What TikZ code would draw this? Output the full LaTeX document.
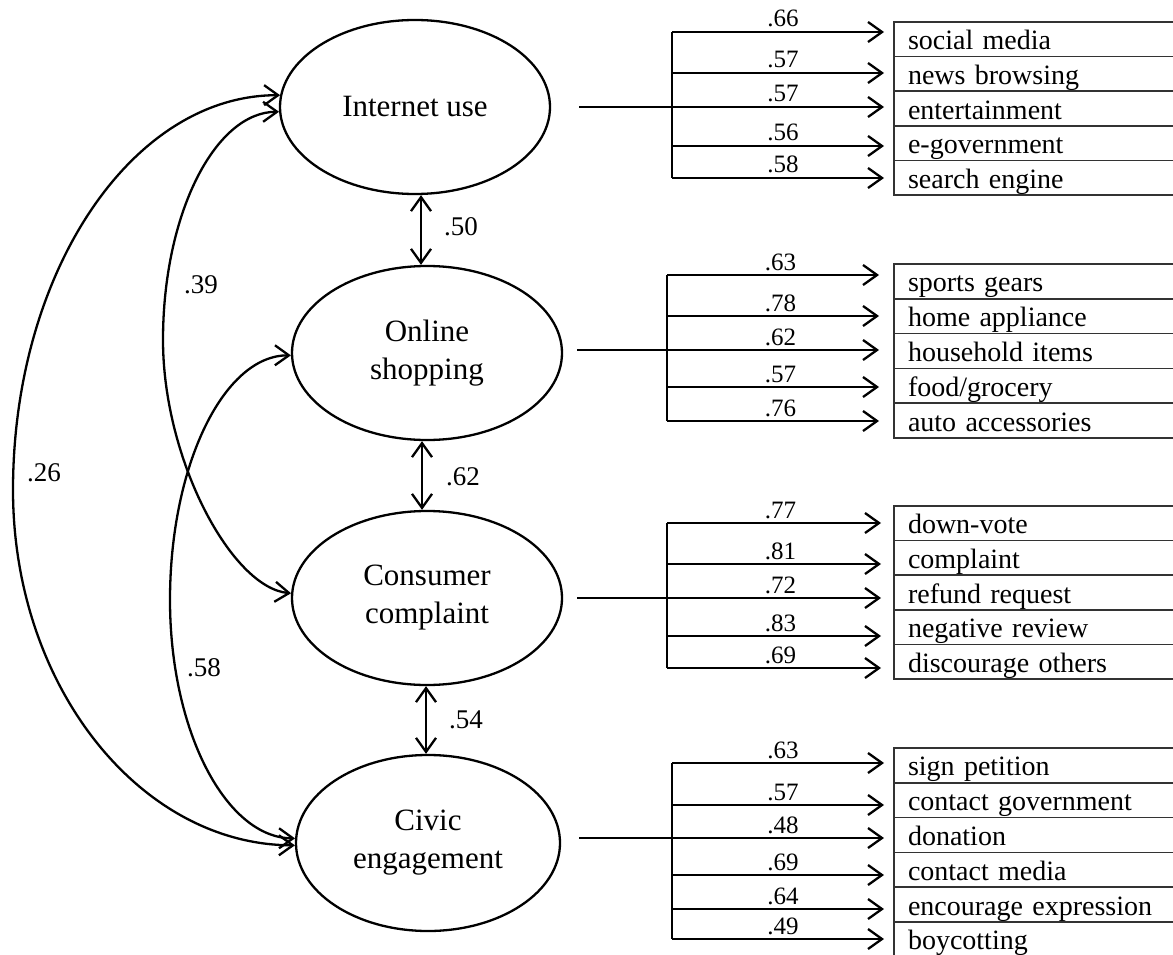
\documentclass[tikz,border=0pt]{standalone}
\usepackage{fontspec}
\setmainfont{Liberation Serif}
\usetikzlibrary{arrows.meta,shapes.geometric}
\begin{document}
\begin{tikzpicture}[x=1pt,y=-1pt,
  lat/.style={draw, ellipse, line width=2.3pt, minimum width=270pt, minimum height=174pt,
    inner sep=0pt, align=center, font=\fontsize{31}{38}\selectfont},
  item/.style={draw=black!80, line width=1.5pt, anchor=north west, outer sep=0pt,
    minimum height=34.7pt, text width=262pt, inner xsep=14pt, inner ysep=0pt,
    text height=24pt, text depth=3pt, align=left, font=\fontsize{28}{32}\selectfont},
  wire/.style={line width=2.3pt},
  load/.style={line width=2.3pt, -{Straight Barb[length=14pt,width=20pt]}},
  corr/.style={line width=2.3pt, {Straight Barb[length=14pt,width=20pt]}-{Straight Barb[length=14pt,width=20pt]}},
  lab/.style={midway, anchor=base, yshift=5pt, inner sep=0pt, font=\fontsize{25}{30}\selectfont},
  clab/.style={inner sep=0pt, font=\fontsize{27}{32}\selectfont}]
\useasboundingbox (0,0) rectangle (1173,955);
\clip (0,0) rectangle (1173,955);

% latent variables
\node[lat] (iu) at (415,107) {Internet use};
\node[lat] (os) at (427,353) {Online\\shopping};
\node[lat] (cc) at (427,598) {Consumer\\complaint};
\node[lat, minimum width=264pt, minimum height=176pt] (ce) at (428,843) {Civic\\engagement};

% vertical correlations
\draw[corr] ([xshift=6pt]iu.south) -- ([xshift=-6pt]os.north);
\draw[corr] ([xshift=-5pt]os.south) -- ([xshift=-5pt]cc.north);
\draw[corr] ([xshift=-1pt]cc.south) -- ([xshift=-2pt]ce.north);
\node[clab] (r50) at (461,227) {.50};
\node[clab] (r62) at (463,477) {.62};
\node[clab] (r54) at (466,720) {.54};

% curved correlations
\coordinate (k26) at (13,490);
\coordinate (k39) at (163,340);
\coordinate (k58) at (170,600);
\draw[corr] (iu.175) .. controls (132,95) and (13,272) .. (k26)
  .. controls (13,686) and (140,845) .. (ce.181);
\draw[corr] (iu.182) .. controls (215,112) and (163,214) .. (k39)
  .. controls (163,460) and (232,588) .. (cc.178);
\draw[corr] (os.181) .. controls (224,355) and (170,465) .. (k58)
  .. controls (170,731) and (226,838) .. (ce.178);
\node[clab] (r39) at (201,285) {.39};
\node[clab] (r26) at (44,473) {.26};
\node[clab] (r58) at (204,668) {.58};

% Internet use indicators
\foreach \ay/\lv/\tx [count=\i] in {32/.66/social media,73/.57/news browsing,107/.57/entertainment,146/.56/e-government,178/.58/search engine}{
  \node[item] (I\i) at (894,{22+(\i-1)*34.6}) {\tx};
  \coordinate (IT\i) at (672,\ay);
  \draw[load, shorten >=10pt] (IT\i) -- (IT\i -| I\i.west) node[lab] (IL\i) {\lv};
}
\draw[wire] (IT1) -- (IT5);
\draw[wire] ([xshift=28pt]iu.east |- IT3) -- (IT3);

% Online shopping indicators
\foreach \ay/\lv/\tx [count=\i] in {275/.63/sports gears,316/.78/home appliance,350/.62/household items,387/.57/{food/grocery},421/.76/auto accessories}{
  \node[item] (O\i) at (894,{264+(\i-1)*34.8}) {\tx};
  \coordinate (OT\i) at (667,\ay);
  \draw[load, shorten >=15pt] (OT\i) -- (OT\i -| O\i.west) node[lab] (OL\i) {\lv};
}
\draw[wire] (OT1) -- (OT5);
\draw[wire] ([xshift=14pt]os.east |- OT3) -- (OT3);

% Consumer complaint indicators
\foreach \ay/\lv/\tx [count=\i] in {523/.77/down-vote,564/.81/complaint,598/.72/refund request,636/.83/negative review,668/.69/discourage others}{
  \node[item] (C\i) at (894,{506+(\i-1)*34.6}) {\tx};
  \coordinate (CT\i) at (667,\ay);
  \draw[load, shorten >=13pt] (CT\i) -- (CT\i -| C\i.west) node[lab] (CL\i) {\lv};
}
\draw[wire] (CT1) -- (CT5);
\draw[wire] ([xshift=14pt]cc.east |- CT3) -- (CT3);

% Civic engagement indicators
\foreach \ay/\lv/\tx [count=\i] in {763/.63/sign petition,805/.57/contact government,838/.48/donation,875/.69/contact media,909/.64/encourage expression,939/.49/boycotting}{
  \node[item] (E\i) at (894,{748+(\i-1)*34.8}) {\tx};
  \coordinate (ET\i) at (672,\ay);
  \draw[load, shorten >=10pt] (ET\i) -- (ET\i -| E\i.west) node[lab] (EL\i) {\lv};
}
\draw[wire] (ET1) -- (ET6);
\draw[wire] ([xshift=18pt]ce.east |- ET3) -- (ET3);
\end{tikzpicture}
\end{document}
